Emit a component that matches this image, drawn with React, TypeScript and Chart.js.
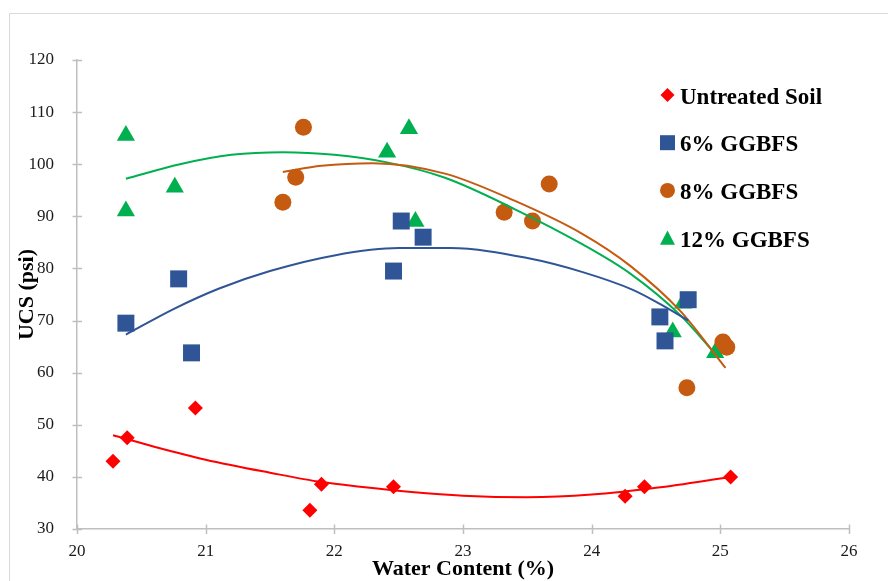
import React, { useEffect, useRef } from 'react';
import { Chart, registerables } from 'chart.js';

Chart.register(...registerables);

const FONT = '"Liberation Serif", "Times New Roman", serif';

// Legend / series definitions
const seriesLabels = ['Untreated Soil', '6% GGBFS', '8% GGBFS', '12% GGBFS'];
const seriesColors = ['#ff0000', '#2f5597', '#c55a11', '#00b050'];
const seriesMarkers = ['rectRot', 'rect', 'circle', 'triangle'];
const markerRadius = [7.5, 12, 8.5, 10.5];

// Axis ranges
const xTicks = [20, 21, 22, 23, 24, 25, 26];
const yTicks = [30, 40, 50, 60, 70, 80, 90, 100, 110, 120];

// Measured samples: water content (%) and UCS (psi)
const waterUntreated = [20.28, 20.39, 20.92, 21.81, 21.9, 22.46, 24.26, 24.41, 25.08];
const ucsUntreated = [43.0, 47.5, 53.2, 33.6, 38.6, 38.1, 36.3, 38.1, 40.0];

const water6 = [20.38, 20.79, 20.89, 22.46, 22.52, 22.69, 24.53, 24.57, 24.75];
const ucs6 = [69.5, 78.0, 63.8, 79.5, 89.1, 86.0, 70.7, 66.1, 74.0];

const water8 = [21.6, 21.7, 21.76, 23.32, 23.54, 23.67, 24.74, 25.02, 25.05];
const ucs8 = [92.7, 97.5, 107.1, 90.8, 89.1, 96.2, 57.1, 65.9, 64.9];

const water12 = [20.38, 20.38, 20.76, 22.41, 22.58, 22.63, 24.63, 24.71, 24.96];
const ucs12 = [105.5, 91.0, 95.6, 102.3, 106.8, 89.0, 67.8, 73.3, 63.8];

// Trend curves
const trendWaterUntreated = [20.28, 20.6, 21.0, 21.5, 21.9, 22.2, 22.6, 23.0, 23.5, 24.0, 24.5, 25.08];
const trendUcsUntreated = [48.0, 45.8, 43.3, 40.8, 39.0, 38.1, 37.1, 36.4, 36.1, 36.6, 37.9, 40.0];

const trendWater6 = [20.38, 20.75, 21.1, 21.5, 22.0, 22.5, 22.9, 23.5, 23.93, 24.32, 24.53, 24.75];
const trendUcs6 = [67.3, 72.2, 76.1, 79.5, 82.5, 83.9, 83.9, 82.0, 79.3, 75.9, 73.2, 70.0];

const trendWater8 = [21.6, 21.9, 22.3, 22.86, 23.4, 23.93, 24.3, 24.69, 25.04];
const trendUcs8 = [98.5, 99.7, 100.2, 98.2, 93.0, 86.6, 80.5, 71.8, 60.9];

const trendWater12 = [20.38, 20.8, 21.2, 21.6, 22.0, 22.4, 22.86, 23.4, 23.93, 24.3, 24.69, 24.96];
const trendUcs12 = [97.2, 100.0, 101.8, 102.3, 101.8, 100.4, 97.4, 91.4, 84.6, 79.0, 71.0, 63.6];

const toPoints = (xs: number[], ys: number[]) => xs.map((x, i) => ({ x, y: ys[i] }));

const sampleX = [waterUntreated, water6, water8, water12];
const sampleY = [ucsUntreated, ucs6, ucs8, ucs12];
const trendX = [trendWaterUntreated, trendWater6, trendWater8, trendWater12];
const trendY = [trendUcsUntreated, trendUcs6, trendUcs8, trendUcs12];

function drawMarker(ctx: CanvasRenderingContext2D, kind: string, x: number, y: number, s: number, color: string) {
  ctx.fillStyle = color;
  ctx.beginPath();
  if (kind === 'rectRot') {
    ctx.moveTo(x, y - s);
    ctx.lineTo(x + s, y);
    ctx.lineTo(x, y + s);
    ctx.lineTo(x - s, y);
  } else if (kind === 'rect') {
    ctx.rect(x - s, y - s, 2 * s, 2 * s);
  } else if (kind === 'circle') {
    ctx.arc(x, y, s, 0, Math.PI * 2);
  } else {
    ctx.moveTo(x, y - s);
    ctx.lineTo(x + s, y + s * 0.9);
    ctx.lineTo(x - s, y + s * 0.9);
  }
  ctx.closePath();
  ctx.fill();
}

// Outer frame, cross tick marks and the legend inside the plot
const decorPlugin = {
  id: 'decor',
  beforeDraw(chart: any) {
    const ctx = chart.ctx as CanvasRenderingContext2D;
    ctx.save();
    ctx.strokeStyle = '#d9d9d9';
    ctx.lineWidth = 1;
    ctx.beginPath();
    ctx.moveTo(9.5, chart.height);
    ctx.lineTo(9.5, 13.5);
    ctx.lineTo(chart.width, 13.5);
    ctx.stroke();
    ctx.restore();
  },
  afterDraw(chart: any) {
    const ctx = chart.ctx as CanvasRenderingContext2D;
    const xs = chart.scales.x;
    const ys = chart.scales.y;
    const area = chart.chartArea;
    ctx.save();
    ctx.strokeStyle = '#bfbfbf';
    ctx.lineWidth = 1.5;
    ctx.beginPath();
    xs.ticks.forEach((t: any) => {
      const px = Math.round(xs.getPixelForValue(t.value)) + 0.5;
      ctx.moveTo(px, area.bottom - 4.5);
      ctx.lineTo(px, area.bottom + 5);
    });
    ys.ticks.forEach((t: any) => {
      const py = Math.round(ys.getPixelForValue(t.value)) + 0.5;
      ctx.moveTo(area.left - 4.5, py);
      ctx.lineTo(area.left + 5, py);
    });
    ctx.stroke();

    // legend
    ctx.font = `bold 23px ${FONT}`;
    ctx.textBaseline = 'alphabetic';
    ctx.textAlign = 'left';
    const sizes = [7, 7.5, 7.5, 7.5];
    seriesLabels.forEach((label, i) => {
      const y = 95 + i * 47.7;
      drawMarker(ctx, seriesMarkers[i], 667.5, y, sizes[i], seriesColors[i]);
      ctx.fillStyle = '#000';
      ctx.fillText(label, 680, y + 8.5);
    });
    ctx.restore();
  },
};

export default function App() {
  const canvasRef = useRef<HTMLCanvasElement | null>(null);

  useEffect(() => {
    if (!canvasRef.current) return;

    const sampleSets = seriesLabels.map((label, i) => ({
      type: 'scatter' as const,
      label,
      data: toPoints(sampleX[i], sampleY[i]),
      pointStyle: seriesMarkers[i] as any,
      pointRadius: markerRadius[i],
      pointBackgroundColor: seriesColors[i],
      pointBorderWidth: 0,
      borderColor: seriesColors[i],
      backgroundColor: seriesColors[i],
      showLine: false,
      order: 2,
    }));

    const trendSets = seriesLabels.map((label, i) => ({
      type: 'scatter' as const,
      label: `${label} trend`,
      data: toPoints(trendX[i], trendY[i]),
      showLine: true,
      pointRadius: 0,
      borderColor: seriesColors[i],
      borderWidth: 2,
      cubicInterpolationMode: 'monotone' as const,
      fill: false,
      order: 1,
    }));

    const chart = new Chart(canvasRef.current, {
      type: 'scatter',
      data: { datasets: [...trendSets, ...sampleSets] as any },
      options: {
        animation: false,
        responsive: false,
        devicePixelRatio: 1,
        events: [],
        layout: { padding: { top: 60, right: 39, left: 0, bottom: 0 } },
        plugins: {
          legend: { display: false },
          tooltip: { enabled: false },
        },
        scales: {
          x: {
            type: 'linear',
            min: xTicks[0],
            max: xTicks[xTicks.length - 1],
            afterBuildTicks: (scale: any) => {
              scale.ticks = xTicks.map((v) => ({ value: v }));
            },
            afterFit: (scale: any) => {
              scale.height = 52;
            },
            grid: { display: false, drawTicks: false, tickLength: 0 },
            border: { display: true, color: '#bfbfbf', width: 1.5 },
            ticks: {
              padding: 12,
              color: '#1a1a1a',
              font: { family: FONT, size: 17 },
            },
            title: {
              display: true,
              text: 'Water Content (%)',
              color: '#000',
              font: { family: FONT, size: 22, weight: 'bold', lineHeight: 1.2 },
              padding: { top: 0, bottom: -2 },
            },
          },
          y: {
            type: 'linear',
            min: yTicks[0],
            max: yTicks[yTicks.length - 1],
            afterBuildTicks: (scale: any) => {
              scale.ticks = yTicks.map((v) => ({ value: v }));
            },
            afterFit: (scale: any) => {
              scale.width = 77;
            },
            grid: { display: false, drawTicks: false, tickLength: 0 },
            border: { display: true, color: '#bfbfbf', width: 1.5 },
            ticks: {
              padding: 23,
              color: '#1a1a1a',
              font: { family: FONT, size: 17 },
            },
            title: {
              display: true,
              text: 'UCS (psi)',
              color: '#000',
              font: { family: FONT, size: 22, weight: 'bold', lineHeight: 1.2 },
              padding: { top: 14, bottom: 0 },
            },
          },
        },
      },
      plugins: [decorPlugin],
    });

    return () => chart.destroy();
  }, []);

  return (
    <div style={{ position: 'absolute', left: 0, top: 0, width: 888, height: 581, background: '#fff' }}>
      <canvas ref={canvasRef} width={888} height={581} style={{ display: 'block' }} />
    </div>
  );
}
